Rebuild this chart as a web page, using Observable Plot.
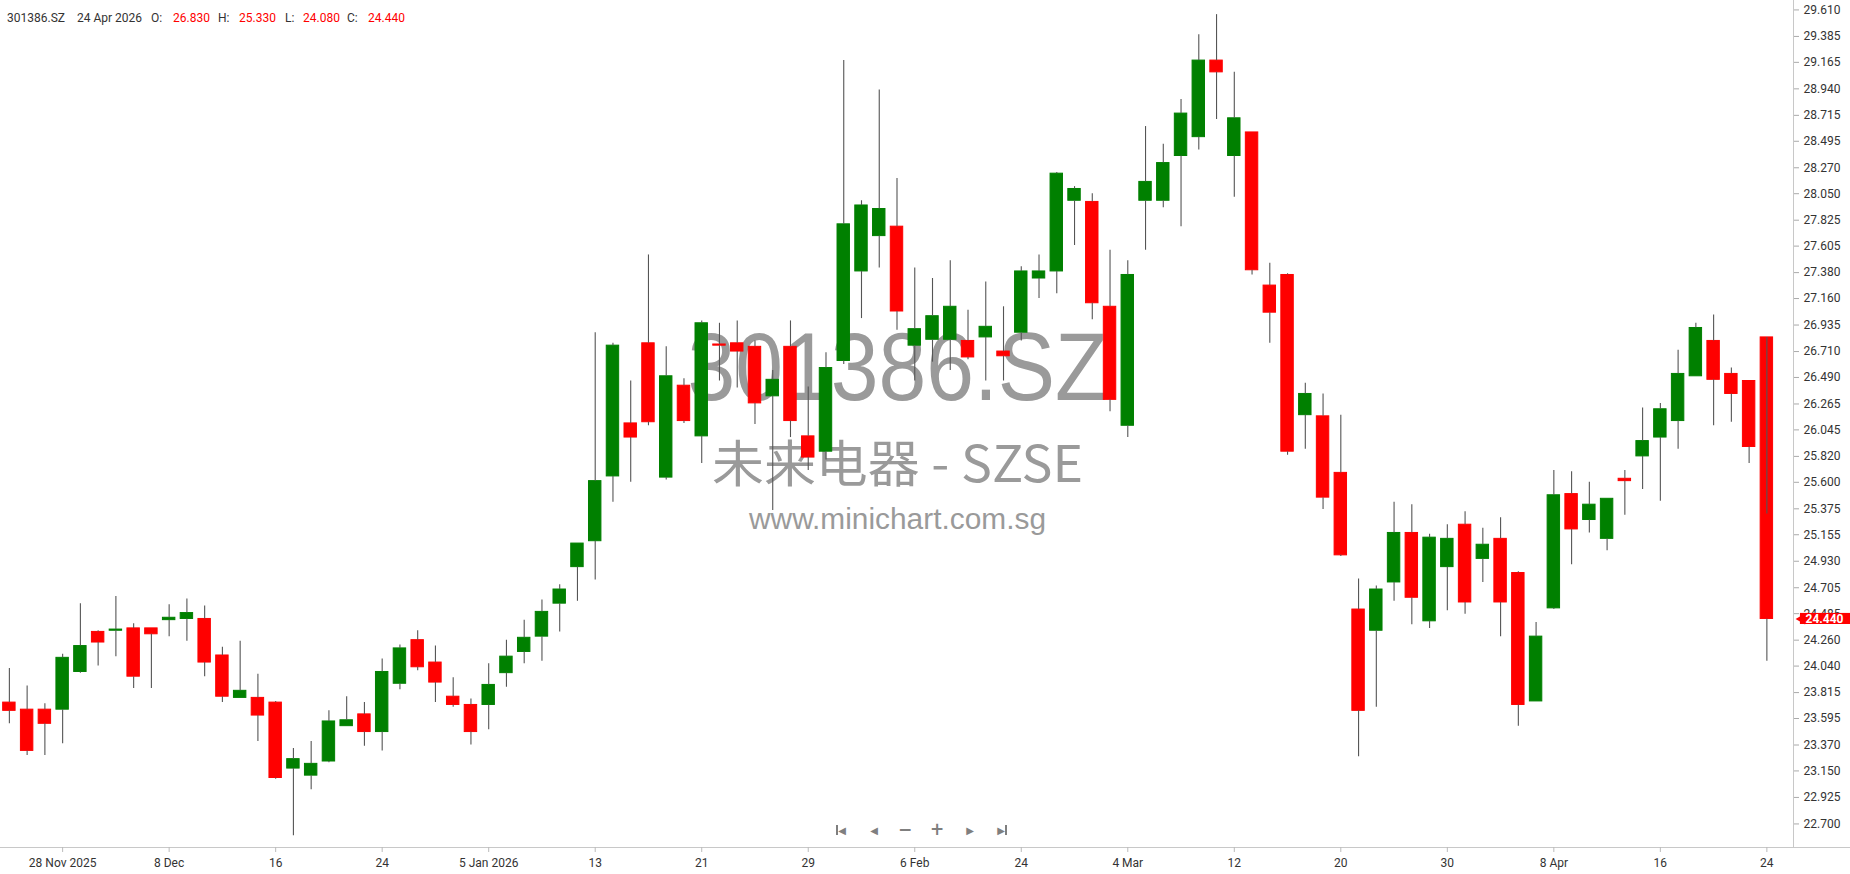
<!DOCTYPE html>
<html>
<head>
<meta charset="utf-8">
<script src="https://cdn.jsdelivr.net/npm/d3@7"></script>
<script src="https://cdn.jsdelivr.net/npm/@observablehq/plot@0.6"></script>
<style>
html, body { margin: 0; padding: 0; background: #fff; }
#wrap { position: relative; width: 1850px; height: 874px; overflow: hidden; font-family: Roboto, "Open Sans", sans-serif; }
#hdr > span { position: absolute; top: 11px; font-size: 12px; line-height: 14px; color: #333; white-space: pre; }
#hdr > span.v { color: #ff0000; }
#nav > div { position: absolute; top: 820px; width: 20px; height: 18px; line-height: 18px; text-align: center; color: #7f7f7f; font-family: "DejaVu Sans", sans-serif; white-space: nowrap; }
#nav .bar { display: inline-block; width: 2px; height: 10px; background: #7f7f7f; vertical-align: -1px; }
#nav .tri { font-size: 10px; }
#nav .sgn { font-size: 17px; font-weight: bold; }
</style>
</head>
<body>
<div id="wrap"><div id="chart"></div><div id="hdr"></div><div id="nav"></div></div>
<script>
// ---- data ----
const symbol = "301386.SZ";
const companyName = "未来电器";
const exchange = "SZSE";
const site = "www.minichart.com.sg";

const dates = [
 "2025-11-25","2025-11-26","2025-11-27","2025-11-28",
 "2025-12-01","2025-12-02","2025-12-03","2025-12-04","2025-12-05",
 "2025-12-08","2025-12-09","2025-12-10","2025-12-11","2025-12-12",
 "2025-12-15","2025-12-16","2025-12-17","2025-12-18","2025-12-19",
 "2025-12-22","2025-12-23","2025-12-24","2025-12-25","2025-12-26",
 "2025-12-29","2025-12-30","2025-12-31",
 "2026-01-05","2026-01-06","2026-01-07","2026-01-08","2026-01-09",
 "2026-01-12","2026-01-13","2026-01-14","2026-01-15","2026-01-16",
 "2026-01-19","2026-01-20","2026-01-21","2026-01-22","2026-01-23",
 "2026-01-26","2026-01-27","2026-01-28","2026-01-29","2026-01-30",
 "2026-02-02","2026-02-03","2026-02-04","2026-02-05","2026-02-06",
 "2026-02-09","2026-02-10","2026-02-11","2026-02-12","2026-02-13",
 "2026-02-24","2026-02-25","2026-02-26","2026-02-27",
 "2026-03-02","2026-03-03","2026-03-04","2026-03-05","2026-03-06",
 "2026-03-09","2026-03-10","2026-03-11","2026-03-12","2026-03-13",
 "2026-03-16","2026-03-17","2026-03-18","2026-03-19","2026-03-20",
 "2026-03-23","2026-03-24","2026-03-25","2026-03-26","2026-03-27",
 "2026-03-30","2026-03-31","2026-04-01","2026-04-02","2026-04-03",
 "2026-04-07","2026-04-08","2026-04-09","2026-04-10",
 "2026-04-13","2026-04-14","2026-04-15","2026-04-16","2026-04-17",
 "2026-04-20","2026-04-21","2026-04-22","2026-04-23","2026-04-24"
];

const open = [
 23.73,23.67,23.67,23.67,23.99,24.33,24.34,24.36,24.36,24.43,
 24.44,24.44,24.13,23.77,23.77,23.73,23.17,23.11,23.23,23.53,
 23.63,23.48,23.89,24.26,24.07,23.78,23.71,23.71,23.98,24.16,
 24.29,24.57,24.88,25.10,25.65,26.10,26.78,25.64,26.42,25.99,
 26.77,26.78,26.75,26.33,26.75,25.99,25.86,26.63,27.39,27.69,
 27.77,26.76,26.81,26.81,26.80,26.83,26.71,26.87,27.33,27.39,
 27.99,27.98,27.09,26.08,27.99,27.99,28.37,28.53,29.18,28.37,
 28.57,27.27,27.36,26.17,26.16,25.68,24.52,24.34,24.75,25.17,
 24.42,24.88,25.24,24.95,25.12,24.83,23.74,24.53,25.50,25.28,
 25.12,25.63,25.82,25.98,26.12,26.50,26.80,26.52,26.46,26.83
];
const high = [
 24.02,23.87,23.72,24.14,24.57,24.34,24.63,24.40,24.36,24.56,
 24.61,24.55,24.20,24.25,23.97,23.74,23.34,23.40,23.66,23.78,
 23.73,24.10,24.22,24.34,24.21,23.94,23.76,24.06,24.26,24.43,
 24.60,24.73,25.08,26.87,26.78,26.46,27.53,26.75,26.48,26.97,
 26.95,26.97,26.80,26.55,26.97,26.41,26.70,29.18,27.99,28.93,
 28.18,27.42,27.33,27.48,27.06,27.30,27.09,27.43,27.53,28.23,
 28.11,28.05,27.57,27.48,28.62,28.47,28.85,29.40,29.57,29.08,
 28.57,27.46,27.37,26.44,26.35,26.17,24.78,24.72,25.43,25.41,
 25.16,25.24,25.35,25.21,25.30,24.84,24.41,25.70,25.69,25.60,
 25.46,25.70,26.23,26.27,26.72,26.95,27.02,26.57,26.46,25.33
];
const low = [
 23.55,23.28,23.28,23.38,23.98,24.04,24.12,23.85,23.85,24.29,
 24.25,23.95,23.73,23.77,23.40,23.08,22.60,22.99,23.22,23.53,
 23.36,23.32,23.84,24.00,23.73,23.69,23.37,23.50,23.86,24.06,
 24.08,24.33,24.59,24.77,25.43,25.60,26.08,25.62,26.10,25.76,
 26.46,26.40,26.09,25.36,25.98,25.70,25.79,26.60,26.99,27.42,
 26.89,26.46,26.62,26.55,26.64,26.46,26.46,26.80,27.16,27.20,
 27.61,26.98,26.20,25.98,27.57,27.93,27.77,28.42,28.68,28.02,
 27.36,26.78,25.83,25.88,25.37,24.97,23.27,23.69,24.59,24.39,
 24.36,24.51,24.48,24.75,24.29,23.53,23.74,24.52,24.90,25.17,
 25.02,25.32,25.54,25.44,25.88,26.50,26.08,26.11,25.76,24.08
];
const close = [
 23.66,23.32,23.55,24.11,24.21,24.24,24.35,23.95,24.31,24.45,
 24.49,24.07,23.78,23.83,23.62,23.09,23.25,23.21,23.57,23.58,
 23.48,23.99,24.19,24.03,23.90,23.71,23.48,23.88,24.12,24.28,
 24.50,24.69,25.08,25.61,26.76,25.98,26.11,26.50,26.12,26.95,
 26.76,26.71,26.27,26.47,26.12,25.81,26.57,27.79,27.95,27.92,
 27.05,26.90,27.01,27.09,26.66,26.92,26.67,27.39,27.39,28.22,
 28.09,27.12,26.30,27.36,28.15,28.31,28.73,29.18,29.08,28.69,
 27.40,27.04,25.86,26.35,25.47,24.98,23.66,24.69,25.17,24.62,
 25.13,25.12,24.58,25.07,24.58,23.71,24.29,25.49,25.20,25.41,
 25.46,25.61,25.95,26.22,26.52,26.91,26.47,26.35,25.90,24.44
];

const yTickLabels = [
 "29.610","29.385","29.165","28.940","28.715","28.495","28.270","28.050",
 "27.825","27.605","27.380","27.160","26.935","26.710","26.490","26.265",
 "26.045","25.820","25.600","25.375","25.155","24.930","24.705","24.485",
 "24.260","24.040","23.815","23.595","23.370","23.150","22.925","22.700"
];
const xTickDates = [
 "2025-11-28","2025-12-08","2025-12-16","2025-12-24","2026-01-05","2026-01-13",
 "2026-01-21","2026-01-29","2026-02-06","2026-02-24","2026-03-04","2026-03-12",
 "2026-03-20","2026-03-30","2026-04-08","2026-04-16","2026-04-24"
];
const xTickLabels = [
 "28 Nov 2025","8 Dec","16","24","5 Jan 2026","13",
 "21","29","6 Feb","24","4 Mar","12",
 "20","30","8 Apr","16","24"
];

// ---- derived ----
const GREEN = "#008000", RED = "#ff0000";
const candles = dates.map((d, i) => ({i, date: d, o: open[i], h: high[i], l: low[i], c: close[i]}));
const colorOf = d => d.c >= d.o ? GREEN : RED;
const yTicks = yTickLabels.map(Number);
const xTicks = xTickDates.map(d => dates.indexOf(d));
const xLabelOf = new Map(xTicks.map((t, k) => [t, xTickLabels[k]]));
const yLabelOf = new Map(yTicks.map((t, k) => [t, yTickLabels[k]]));
const last = candles[candles.length - 1];
const n = dates.length;

const xMin = -0.5, xMax = n + 0.5;          // one empty slot on the right
const yMin = 22.5, yMax = 29.69;
const xFar = xMax + 57 / (1793 / (xMax - xMin)); // right edge of svg in x units
const wm = "#9a9a9a";

const chart = Plot.plot({
  width: 1850,
  height: 874,
  marginLeft: 0, marginTop: 0, marginRight: 57, marginBottom: 27,
  style: {fontFamily: "Roboto, 'Open Sans', sans-serif", background: "transparent", color: "#333", overflow: "visible"},
  x: {type: "linear", domain: [xMin, xMax], axis: null, label: null},
  y: {type: "linear", domain: [yMin, yMax], axis: null, label: null},
  marks: [
    // watermark
    Plot.text([symbol], {frameAnchor: "top-left", dx: 897, dy: 399, text: d => d, textAnchor: "middle", lineAnchor: "bottom", fontSize: 96, fontFamily: "Liberation Sans, Arial, sans-serif", fill: wm}),
    Plot.text([companyName + " - " + exchange], {frameAnchor: "top-left", dx: 897, dy: 481, text: d => d, textAnchor: "middle", lineAnchor: "bottom", fontSize: 50, fontFamily: "'Noto Sans CJK SC', 'Liberation Sans', sans-serif", fill: wm}),
    Plot.text([site], {frameAnchor: "top-left", dx: 897, dy: 528, text: d => d, textAnchor: "middle", lineAnchor: "bottom", fontSize: 30, fontFamily: "Liberation Sans, Arial, sans-serif", fill: wm}),
    // axes lines
    Plot.ruleX([xMax], {stroke: "#c8c8c8"}),
    Plot.ruleY([yMin], {x1: xMin, x2: xFar, stroke: "#c8c8c8"}),
    // y axis (right)
    Plot.axisY(yTicks, {anchor: "right", label: null, tickSize: 5, tickPadding: 5, tickFormat: d => yLabelOf.get(d), fontSize: 12, stroke: "#aaa", fill: "#333"}),
    // x axis (bottom)
    Plot.axisX(xTicks, {anchor: "bottom", label: null, tickSize: 5, tickPadding: 6, tickFormat: d => xLabelOf.get(d), fontSize: 12, stroke: "#bbb", fill: "#333"}),
    // candle bodies
    Plot.rect(candles, {x1: d => d.i - 0.35, x2: d => d.i + 0.35, y1: d => d.o, y2: d => d.c, fill: colorOf, stroke: colorOf, strokeWidth: 1}),
    // wicks (upper and lower)
    Plot.ruleX(candles, {x: "i", y1: d => Math.max(d.o, d.c), y2: "h", stroke: "#555", strokeWidth: 1.1}),
    Plot.ruleX(candles, {x: "i", y1: d => Math.min(d.o, d.c), y2: "l", stroke: "#555", strokeWidth: 1.1}),
    // last price marker
    Plot.rect([last], {x1: xMax + 0.39, x2: xFar, y1: d => d.c - 0.047, y2: d => d.c + 0.047, fill: RED}),
    Plot.dot([last], {x: xMax + 0.475, y: "c", symbol: "triangle", rotate: -90, r: 4.1, fill: RED, stroke: "none"}),
    Plot.text([last], {x: xMax, y: "c", text: d => d.c.toFixed(3), dx: 12, textAnchor: "start", fontSize: 12, fontWeight: "bold", fill: "#fff"})
  ]
});
document.getElementById("chart").appendChild(chart);

// stretch watermark texts to the widths seen in the picture
const fits = new Map([[symbol, 420], [companyName + " - " + exchange, 371], [site, 297]]);
chart.querySelectorAll("text").forEach(t => {
  const w = fits.get(t.textContent);
  if (w) { t.setAttribute("textLength", w); t.setAttribute("lengthAdjust", "spacingAndGlyphs"); }
});

// header
const fmtDate = d3.utcFormat("%-d %b %Y");
const hdrItems = [
  [symbol, 7, ""],
  [fmtDate(new Date(last.date + "T00:00:00Z")), 77, ""],
  ["O:", 151, ""], [last.o.toFixed(3), 173, "v"],
  ["H:", 218, ""], [last.h.toFixed(3), 239, "v"],
  ["L:", 285, ""], [last.l.toFixed(3), 303, "v"],
  ["C:", 347, ""], [last.c.toFixed(3), 368, "v"]
];
const hdr = document.getElementById("hdr");
hdrItems.forEach(([t, x, cls]) => {
  const s = document.createElement("span");
  s.textContent = t; s.style.left = x + "px"; if (cls) s.className = cls;
  hdr.appendChild(s);
});

// navigation buttons
const nav = document.getElementById("nav");
const navItems = [
  ['<span class="bar"></span><span class="tri">◀</span>', 841],
  ['<span class="tri">◀</span>', 874],
  ['<span class="sgn">−</span>', 905],
  ['<span class="sgn">+</span>', 937],
  ['<span class="tri">▶</span>', 970],
  ['<span class="tri">▶</span><span class="bar"></span>', 1002]
];
navItems.forEach(([h, cx]) => {
  const s = document.createElement("div");
  s.innerHTML = h; s.style.left = (cx - 10) + "px";
  nav.appendChild(s);
});
</script>
</body>
</html>
